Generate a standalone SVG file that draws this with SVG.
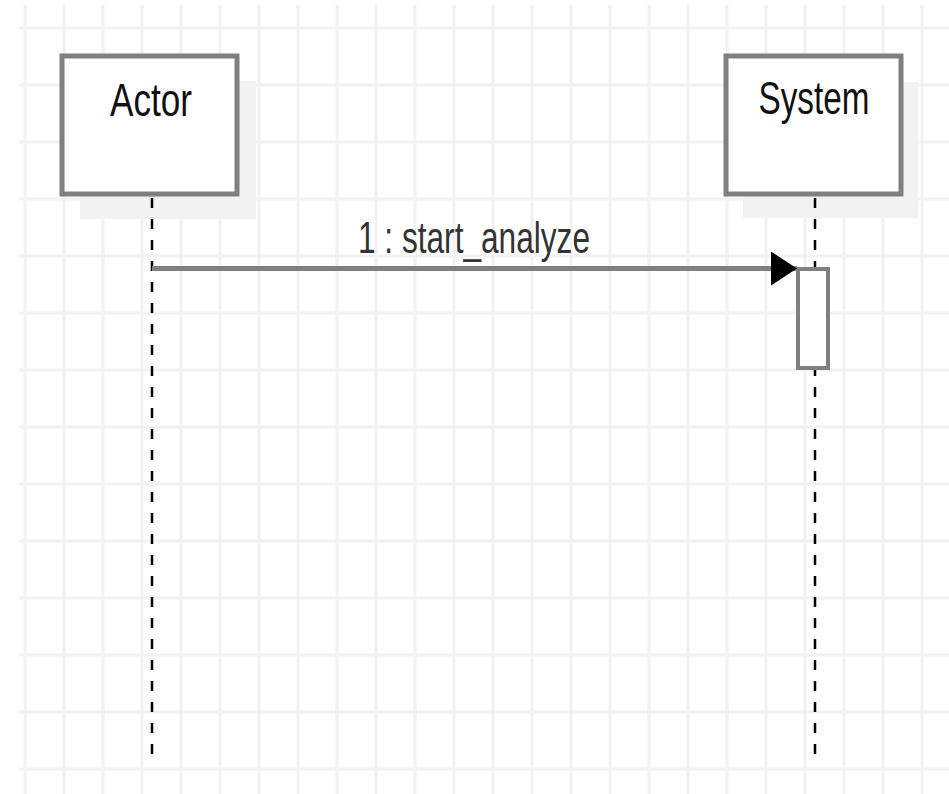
<svg xmlns="http://www.w3.org/2000/svg" width="949" height="794" viewBox="0 0 949 794">
<style>
.grid line{stroke:#f2f2f2;stroke-width:3}
.box{fill:#ffffff;stroke:#7f7f7f;stroke-width:5}
.shadow{fill:#f2f2f2}
.life{stroke:#000;stroke-width:2.5;stroke-dasharray:10 11;fill:none}
.title{font-family:"Liberation Sans",Arial,sans-serif;font-size:46px;fill:#111}
.lbl{font-family:"Liberation Sans",Arial,sans-serif;font-size:44px;fill:#333}
</style>
<defs>
<marker id="arr" markerUnits="userSpaceOnUse" markerWidth="28" markerHeight="36" refX="26" refY="17" orient="auto">
<polygon points="0,0 26,17 0,34" fill="#000"/>
</marker>
</defs>
<rect width="949" height="794" fill="#fff"/>
<g class="grid">
<line x1="25" y1="5" x2="25" y2="794"/><line x1="64" y1="5" x2="64" y2="794"/><line x1="103" y1="5" x2="103" y2="794"/><line x1="142" y1="5" x2="142" y2="794"/><line x1="181" y1="5" x2="181" y2="794"/><line x1="220" y1="5" x2="220" y2="794"/><line x1="259" y1="5" x2="259" y2="794"/><line x1="298" y1="5" x2="298" y2="794"/><line x1="337" y1="5" x2="337" y2="794"/><line x1="376" y1="5" x2="376" y2="794"/><line x1="415" y1="5" x2="415" y2="794"/><line x1="454" y1="5" x2="454" y2="794"/><line x1="493" y1="5" x2="493" y2="794"/><line x1="532" y1="5" x2="532" y2="794"/><line x1="571" y1="5" x2="571" y2="794"/><line x1="610" y1="5" x2="610" y2="794"/><line x1="649" y1="5" x2="649" y2="794"/><line x1="688" y1="5" x2="688" y2="794"/><line x1="727" y1="5" x2="727" y2="794"/><line x1="766" y1="5" x2="766" y2="794"/><line x1="805" y1="5" x2="805" y2="794"/><line x1="844" y1="5" x2="844" y2="794"/><line x1="883" y1="5" x2="883" y2="794"/><line x1="922" y1="5" x2="922" y2="794"/>
<line x1="19" y1="28" x2="949" y2="28"/><line x1="19" y1="85" x2="949" y2="85"/><line x1="19" y1="142" x2="949" y2="142"/><line x1="19" y1="199" x2="949" y2="199"/><line x1="19" y1="256" x2="949" y2="256"/><line x1="19" y1="313" x2="949" y2="313"/><line x1="19" y1="370" x2="949" y2="370"/><line x1="19" y1="427" x2="949" y2="427"/><line x1="19" y1="484" x2="949" y2="484"/><line x1="19" y1="541" x2="949" y2="541"/><line x1="19" y1="598" x2="949" y2="598"/><line x1="19" y1="655" x2="949" y2="655"/><line x1="19" y1="712" x2="949" y2="712"/><line x1="19" y1="769" x2="949" y2="769"/>
</g>
<g id="actor">
<rect class="shadow" x="80" y="81" width="176" height="138"/>
<rect class="box" x="62" y="56" width="175" height="138"/>
<text class="title" x="151" y="116" text-anchor="middle" textLength="82" lengthAdjust="spacingAndGlyphs">Actor</text>
</g>
<g id="system">
<rect class="shadow" x="743" y="82" width="175" height="136"/>
<rect class="box" x="726" y="56" width="175" height="138"/>
<text class="title" x="814" y="114" text-anchor="middle" textLength="111" lengthAdjust="spacingAndGlyphs">System</text>
</g>
<g id="lifelines">
<line class="life" x1="152" y1="198" x2="152" y2="764"/>
<line class="life" x1="815" y1="198" x2="815" y2="764"/>
</g>
<g id="activation">
<rect x="798" y="269" width="30" height="99" fill="#fff" stroke="#7f7f7f" stroke-width="4"/>
</g>
<g id="connectors">
<line x1="152" y1="268.5" x2="797" y2="268.5" stroke="#7f7f7f" stroke-width="5" marker-end="url(#arr)"/>
<text class="lbl" x="358" y="253" textLength="232" lengthAdjust="spacingAndGlyphs">1 : start_analyze</text>
</g>
</svg>
